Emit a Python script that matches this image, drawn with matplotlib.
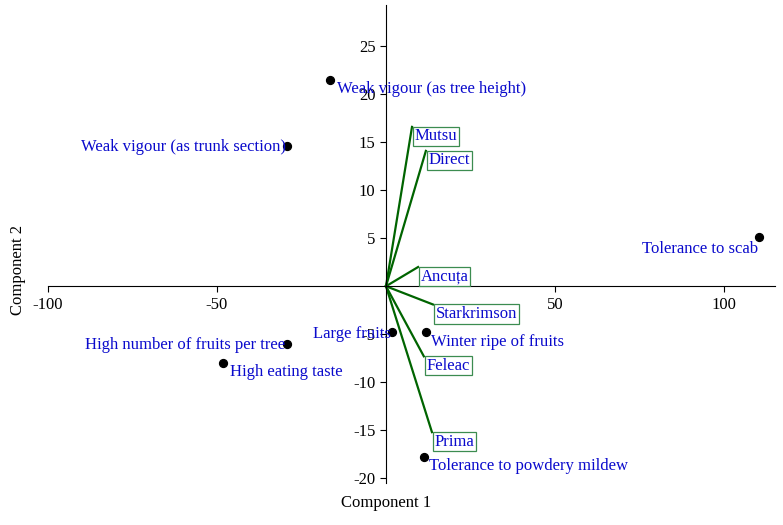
import matplotlib
matplotlib.use("Agg")
import matplotlib.pyplot as plt

plt.rcParams['font.family'] = ['Liberation Serif', 'DejaVu Serif']
plt.rcParams['axes.unicode_minus'] = False

# traits (scores)
traits = ['Weak vigour (as tree height)', 'Weak vigour (as trunk section)',
          'Tolerance to scab', 'High number of fruits per tree',
          'High eating taste', 'Large fruits', 'Winter ripe of fruits',
          'Tolerance to powdery mildew']
trait_x = [-16.6, -29.3, 110.4, -29.3, -48.2, 1.8, 11.8, 11.2]
trait_y = [21.5, 14.6, 5.1, -6.0, -8.0, -4.8, -4.8, -17.8]
# label placement: (ha, va, dx, dy) in points
trait_pos = [('left', 'top', 5, -1), ('right', 'center', -1, -1),
             ('right', 'top', -1, -3), ('right', 'center', -1, -1),
             ('left', 'top', 5, -1), ('right', 'center', -1, -1),
             ('left', 'top', 4, -1), ('left', 'top', 4, -1)]

# cultivars (loadings)
cultivars = ['Mutsu', 'Direct', 'Ancuța', 'Starkrimson', 'Feleac', 'Prima']
cult_x = [7.7, 11.8, 9.5, 13.9, 11.2, 13.6]
cult_y = [16.6, 14.1, 2.0, -1.9, -7.3, -15.2]

blue = '#0a0acc'
green = '#006400'

fig = plt.figure(figsize=(7.83, 5.25), dpi=100)
ax = fig.add_axes([48/783, 42/525, 727/783, 478/525])

for x, y in zip(cult_x, cult_y):
    ax.plot([0, x], [0, y], color=green, lw=1.6, zorder=2)
for name, x, y in zip(cultivars, cult_x, cult_y):
    ax.annotate(name, (x, y), xytext=(2, -1), textcoords='offset points',
                ha='left', va='top', color=blue, fontsize=12,
                bbox=dict(boxstyle='square,pad=0.1', fc='white', ec='#3c8c50', lw=0.9),
                zorder=4)

ax.scatter(trait_x, trait_y, s=32, color='black', zorder=5)
for name, x, y, (ha, va, dx, dy) in zip(traits, trait_x, trait_y, trait_pos):
    ax.annotate(name, (x, y), xytext=(dx, dy), textcoords='offset points',
                ha=ha, va=va, color=blue, fontsize=12, zorder=6)

ax.set_xlim(-100, 115.1)
ax.set_ylim(-20.5, 29.3)
ax.spines['left'].set_position('zero')
ax.spines['bottom'].set_position('zero')
ax.spines['right'].set_visible(False)
ax.spines['top'].set_visible(False)
ax.set_xticks([-100, -50, 50, 100])
ax.set_yticks([-20, -15, -10, -5, 5, 10, 15, 20, 25])
ax.tick_params(labelsize=12, length=4, width=0.8)

fig.text(386/783, 1 - 503/525, 'Component 1', ha='center', va='center', fontsize=12)
fig.text(18/783, 1 - 270/525, 'Component 2', ha='center', va='center',
         rotation=90, fontsize=12)

fig.savefig('out.png', dpi=100)
